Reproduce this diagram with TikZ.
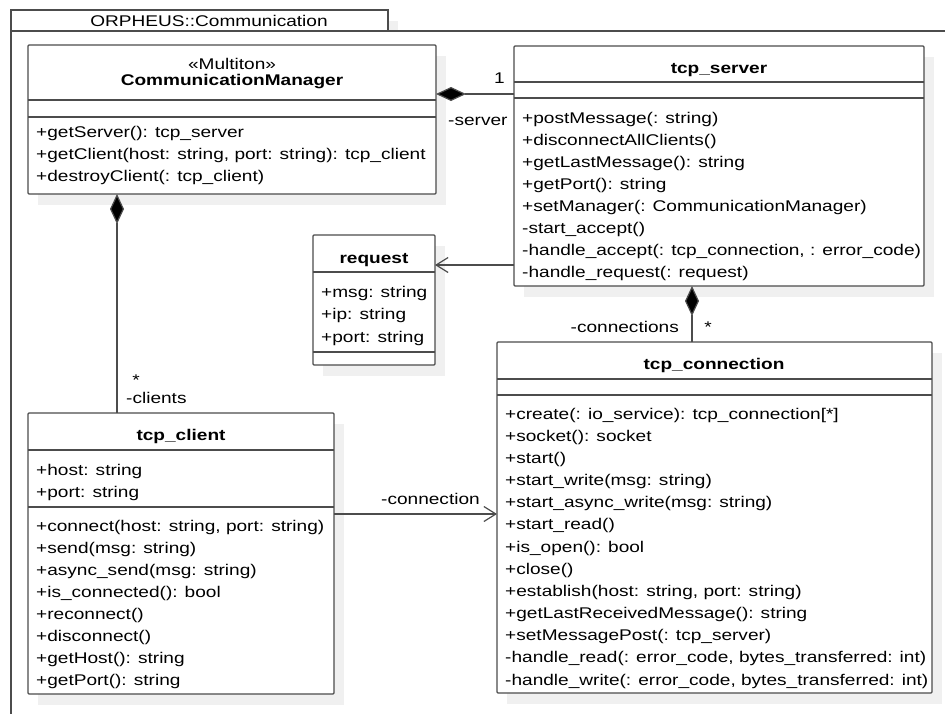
\documentclass[tikz,border=0pt]{standalone}
\usepackage{fontspec}
\setmainfont{Liberation Sans}[FakeStretch=1.23]
\usetikzlibrary{positioning,arrows.meta}

\newcommand{\umlfont}{\fontsize{15.5}{18}\selectfont}

\begin{document}
\begin{tikzpicture}[x=1pt,y=-1pt,
    frame/.style={draw=black!70,line width=1.2pt,fill=white,anchor=north west,inner sep=0pt,outer sep=0pt},
    box/.style={draw=black!70,line width=1.2pt,fill=white,rounded corners=1pt,anchor=north west,inner sep=0pt,outer sep=0pt},
    boxshade/.style={fill=black!6,anchor=north west,inner sep=0pt,outer sep=0pt},
    sep/.style={draw=black!70,line width=1.2pt},
    title/.style={font=\umlfont\bfseries,anchor=base,inner sep=0pt},
    member/.style={font=\umlfont,anchor=base west,inner sep=0pt},
    link/.style={draw=black!70,line width=1.2pt},
    comp/.style={link,{Diamond[length=30pt,width=14pt,fill=black]}-},
    nav/.style={link,-{Straight Barb[length=12pt,width=15pt]}}]
  \clip (0,0) rectangle (945,713);

  % package
  \fill[black!6] (21,21) rectangle (398,31);
  \draw[black!70,line width=1.2pt] (11,31) rectangle (970,740);
  \node[frame,minimum width=377pt,minimum height=21pt] (pkg) at (11,10) {};
  \node[member,anchor=base] (pkg-name) at (209,26) {ORPHEUS::Communication};

  % CommunicationManager
  \node[boxshade,minimum width=408pt,minimum height=149pt] (mgr-shade) at (38,56) {};
  \node[box,minimum width=408pt,minimum height=149pt] (mgr) at (28,45) {};
  \draw[sep] ([yshift=-55pt]mgr.north west) -- ([yshift=-55pt]mgr.north east);
  \draw[sep] ([yshift=-72pt]mgr.north west) -- ([yshift=-72pt]mgr.north east);
  \node[member,anchor=base] (mgr-st) at (232,69) {«Multiton»};
  \node[title] (mgr-name) at (232,85) {CommunicationManager};
  \foreach \txt [count=\i from 0] in {{+getServer(): tcp\_server},
      {+getClient(host: string, port: string): tcp\_client},
      {+destroyClient(: tcp\_client)}}
    \node[member] (mgr-m\i) at (36,{137+22.1*\i}) {\txt};

  % tcp_server
  \node[boxshade,minimum width=410pt,minimum height=240pt] (srv-shade) at (524,57) {};
  \node[box,minimum width=410pt,minimum height=240pt] (srv) at (514,46) {};
  \draw[sep] ([yshift=-36pt]srv.north west) -- ([yshift=-36pt]srv.north east);
  \draw[sep] ([yshift=-52pt]srv.north west) -- ([yshift=-52pt]srv.north east);
  \node[title] (srv-name) at (719,73) {tcp\_server};
  \foreach \txt [count=\i from 0] in {{+postMessage(: string)},
      {+disconnectAllClients()},
      {+getLastMessage(): string},
      {+getPort(): string},
      {+setManager(: CommunicationManager)},
      {-start\_accept()},
      {-handle\_accept(: tcp\_connection, : error\_code)},
      {-handle\_request(: request)}}
    \node[member] (srv-m\i) at (522,{123+22*\i}) {\txt};

  % request
  \node[boxshade,minimum width=122pt,minimum height=130pt] (req-shade) at (323,246) {};
  \node[box,minimum width=122pt,minimum height=130pt] (req) at (313,235) {};
  \draw[sep] ([yshift=-37pt]req.north west) -- ([yshift=-37pt]req.north east);
  \draw[sep] ([yshift=-117pt]req.north west) -- ([yshift=-117pt]req.north east);
  \node[title] (req-name) at (374,263) {request};
  \foreach \txt [count=\i from 0] in {{+msg: string},{+ip: string},{+port: string}}
    \node[member] (req-a\i) at (321,{297+22.5*\i}) {\txt};

  % tcp_connection
  \node[boxshade,minimum width=435pt,minimum height=351pt] (conn-shade) at (507,353) {};
  \node[box,minimum width=435pt,minimum height=351pt] (conn) at (497,342) {};
  \draw[sep] ([yshift=-37pt]conn.north west) -- ([yshift=-37pt]conn.north east);
  \draw[sep] ([yshift=-53pt]conn.north west) -- ([yshift=-53pt]conn.north east);
  \node[title] (conn-name) at (714,369) {tcp\_connection};
  \foreach \txt [count=\i from 0] in {{+create(: io\_service): tcp\_connection[*]},
      {+socket(): socket},
      {+start()},
      {+start\_write(msg: string)},
      {+start\_async\_write(msg: string)},
      {+start\_read()},
      {+is\_open(): bool},
      {+close()},
      {+establish(host: string, port: string)},
      {+getLastReceivedMessage(): string},
      {+setMessagePost(: tcp\_server)},
      {-handle\_read(: error\_code, bytes\_transferred: int)},
      {-handle\_write(: error\_code, bytes\_transferred: int)}}
    \node[member] (conn-m\i) at (505,{419+22.17*\i}) {\txt};

  % tcp_client
  \node[boxshade,minimum width=306pt,minimum height=281pt] (cli-shade) at (38,424) {};
  \node[box,minimum width=306pt,minimum height=281pt] (cli) at (28,413) {};
  \draw[sep] ([yshift=-37pt]cli.north west) -- ([yshift=-37pt]cli.north east);
  \draw[sep] ([yshift=-94pt]cli.north west) -- ([yshift=-94pt]cli.north east);
  \node[title] (cli-name) at (181,440) {tcp\_client};
  \foreach \txt [count=\i from 0] in {{+host: string},{+port: string}}
    \node[member] (cli-a\i) at (36,{475+22*\i}) {\txt};
  \foreach \txt [count=\i from 0] in {{+connect(host: string, port: string)},
      {+send(msg: string)},
      {+async\_send(msg: string)},
      {+is\_connected(): bool},
      {+reconnect()},
      {+disconnect()},
      {+getHost(): string},
      {+getPort(): string}}
    \node[member] (cli-m\i) at (36,{531+22.1*\i}) {\txt};

  % connectors
  \coordinate (lvl-srv) at (0,94);
  \coordinate (lvl-req) at (0,265);
  \coordinate (lvl-cli) at (0,514);
  \coordinate (col-conn) at (692,0);
  \coordinate (col-cli) at (117,0);
  \draw[comp] (mgr.east |- lvl-srv) -- (srv.west |- lvl-srv);
  \draw[nav] (srv.west |- lvl-req) -- (req.east |- lvl-req);
  \draw[comp] (srv.south -| col-conn) -- (conn.north -| col-conn);
  \draw[comp] (mgr.south -| col-cli) -- (cli.north -| col-cli);
  \draw[nav] (cli.east |- lvl-cli) -- (conn.west |- lvl-cli);

  % roles and multiplicities
  \node[member,anchor=base east] (srv-mult) at (505,83) {1};
  \node[member] (srv-role) at (448,125) {-server};
  \node[member,anchor=base east] (conn-role) at (679,332) {-connections};
  \node[member,anchor=base] (conn-mult) at (708,332) {*};
  \node[member,anchor=base] (cli-mult) at (136,385) {*};
  \node[member] (cli-role) at (126,403) {-clients};
  \node[member] (cli-link) at (381,504) {-connection};
\end{tikzpicture}
\end{document}
